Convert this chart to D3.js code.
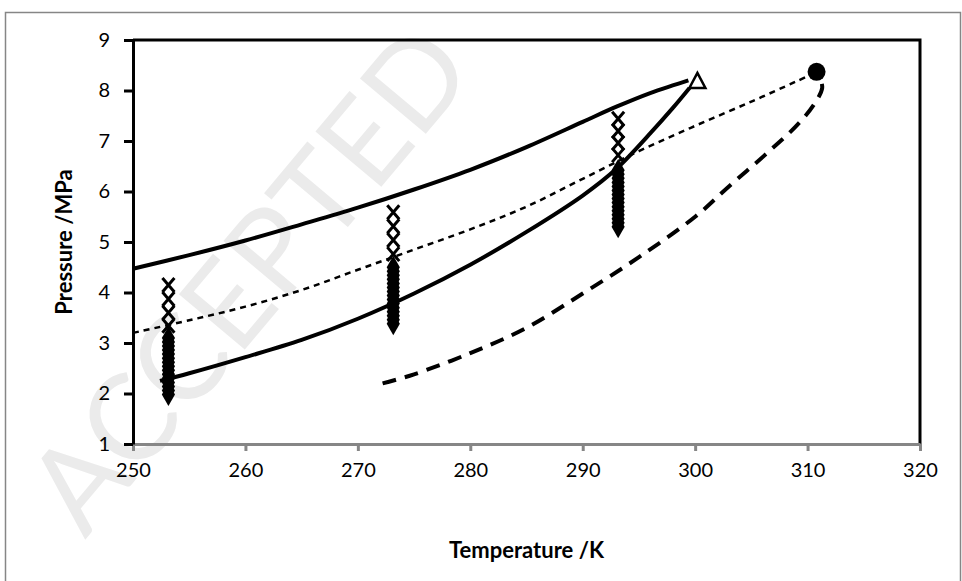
<!DOCTYPE html>
<html>
<head>
<meta charset="utf-8">
<script src="https://cdn.jsdelivr.net/npm/d3@7"></script>
<style>
body { margin: 0; background: #fff; }
text { font-family: Lato, "Open Sans", sans-serif; }
</style>
</head>
<body>
<script>
// chart values
var xTicks = [250, 260, 270, 280, 290, 300, 310, 320];
var yTicks = [1, 2, 3, 4, 5, 6, 7, 8, 9];

// solid envelope, upper branch (T, P)
var solidUpperT = [250, 255, 260, 265, 270, 275, 280, 285, 290, 293, 296, 298, 299.4];
var solidUpperP = [4.47, 4.74, 5.03, 5.35, 5.68, 6.04, 6.43, 6.88, 7.38, 7.68, 7.95, 8.1, 8.2];
// solid envelope, lower branch
var solidLowerT = [252.4, 255, 260, 265, 270, 275, 280, 285, 290, 293, 296, 298, 299.5];
var solidLowerP = [2.25, 2.4, 2.72, 3.06, 3.48, 3.98, 4.55, 5.2, 5.92, 6.45, 7.15, 7.65, 8.05];
// short dash line
var shortDashT = [250, 255, 260, 265, 270, 275, 280, 285, 290, 295, 300, 305, 309, 310.8];
var shortDashP = [3.2, 3.45, 3.72, 4.05, 4.45, 4.85, 5.25, 5.7, 6.25, 6.8, 7.3, 7.78, 8.18, 8.36];
// long dash line
var longDashT = [272.2, 275, 280, 285, 290, 295, 300, 303, 306.7, 309, 310.5, 311.3, 311.1];
var longDashP = [2.2, 2.38, 2.8, 3.3, 3.98, 4.7, 5.5, 6.1, 6.82, 7.3, 7.7, 8.05, 8.25];

// critical points
var triangleT = [300.2];
var triangleP = [8.17];
var circleT = [310.8];
var circleP = [8.37];

// measured points, crosses
var crossT = [253.15, 253.15, 253.15, 253.15, 273.15, 273.15, 273.15, 273.15, 293.15, 293.15, 293.15, 293.15];
var crossP = [4.15, 3.87, 3.6, 3.34, 5.59, 5.31, 5.04, 4.76, 7.44, 7.2, 6.96, 6.72];
// measured points, filled
var filledT = [253.15, 253.15, 253.15, 253.15, 253.15, 253.15, 253.15, 253.15, 253.15, 253.15, 253.15, 253.15, 253.15, 253.15, 253.15,
    273.15, 273.15, 273.15, 273.15, 273.15, 273.15, 273.15, 273.15, 273.15, 273.15, 273.15, 273.15, 273.15, 273.15, 273.15,
    293.15, 293.15, 293.15, 293.15, 293.15, 293.15, 293.15, 293.15, 293.15, 293.15, 293.15, 293.15, 293.15, 293.15, 293.15];
var filledP = [3.1, 3.02, 2.94, 2.86, 2.78, 2.7, 2.62, 2.54, 2.46, 2.38, 2.3, 2.22, 2.14, 2.06, 1.98,
    4.5, 4.42, 4.34, 4.26, 4.18, 4.1, 4.02, 3.94, 3.86, 3.78, 3.7, 3.62, 3.54, 3.46, 3.38,
    6.42, 6.34, 6.26, 6.18, 6.1, 6.02, 5.94, 5.86, 5.78, 5.7, 5.62, 5.54, 5.46, 5.38, 5.3];

var zip = function(a, b) {
    return a.map(function(v, i) { return {t: v, p: b[i]}; });
}

var width = 962, height = 581;
var plot = {left: 133, top: 40, right: 920, bottom: 444};

var svg = d3.select("body").append("svg")
    .attr("width", width)
    .attr("height", height);

// faint watermark
svg.append("text")
    .attr("transform", "translate(85,540) rotate(-50)")
    .attr("font-size", 120)
    .attr("fill", "#ebebeb")
    .attr("font-family", "Liberation Serif, serif")
    .text("ACCEPTED");

// outer chart border
svg.append("rect")
    .attr("x", 5.5).attr("y", 12.5)
    .attr("width", 955).attr("height", 575)
    .attr("fill", "none")
    .attr("stroke", "#868686")
    .attr("stroke-width", 1.5);

var x = d3.scaleLinear().domain([250, 320]).range([plot.left, plot.right]);
var y = d3.scaleLinear().domain([1, 9]).range([plot.bottom, plot.top]);

// plot frame top and right
svg.append("path")
    .attr("d", "M" + plot.left + "," + plot.top + "H" + plot.right + "V" + plot.bottom)
    .attr("fill", "none")
    .attr("stroke", "black")
    .attr("stroke-width", 3);

// x axis, grey
var xAxis = svg.append("g")
    .attr("transform", "translate(0," + plot.bottom + ")")
    .call(d3.axisBottom(x).tickValues(xTicks).tickSize(7).tickPadding(12).tickSizeOuter(0));
xAxis.select(".domain").attr("stroke", "#868686").attr("stroke-width", 3);
xAxis.selectAll(".tick line").attr("stroke", "#868686").attr("stroke-width", 3);
xAxis.selectAll(".tick text").attr("font-size", 20).attr("fill", "black");

// y axis, black
var yAxis = svg.append("g")
    .attr("transform", "translate(" + plot.left + ",0)")
    .call(d3.axisLeft(y).tickValues(yTicks).tickSize(9).tickPadding(14).tickSizeOuter(0));
yAxis.select(".domain").attr("stroke", "black").attr("stroke-width", 3);
yAxis.selectAll(".tick line").attr("stroke", "black").attr("stroke-width", 3);
yAxis.selectAll(".tick text").attr("font-size", 20).attr("fill", "black");

svg.append("text")
    .attr("x", (plot.left + plot.right) / 2)
    .attr("y", 558)
    .attr("text-anchor", "middle")
    .attr("font-size", 22)
    .attr("font-weight", "bold")
    .text("Temperature /K");

svg.append("text")
    .attr("transform", "translate(72," + ((plot.top + plot.bottom) / 2) + ") rotate(-90)")
    .attr("text-anchor", "middle")
    .attr("font-size", 22)
    .attr("font-weight", "bold")
    .text("Pressure /MPa");

var line = d3.line()
    .curve(d3.curveCatmullRom)
    .x(function(d) { return x(d.t); })
    .y(function(d) { return y(d.p); });

svg.append("path")
    .datum(zip(solidUpperT, solidUpperP))
    .attr("d", line)
    .attr("fill", "none").attr("stroke", "black").attr("stroke-width", 4);

svg.append("path")
    .datum(zip(solidLowerT, solidLowerP))
    .attr("d", line)
    .attr("fill", "none").attr("stroke", "black").attr("stroke-width", 4);

svg.append("path")
    .datum(zip(shortDashT, shortDashP))
    .attr("d", line)
    .attr("fill", "none").attr("stroke", "black").attr("stroke-width", 2.5)
    .attr("stroke-dasharray", "6,5");

svg.append("path")
    .datum(zip(longDashT, longDashP))
    .attr("d", line)
    .attr("fill", "none").attr("stroke", "black").attr("stroke-width", 4)
    .attr("stroke-dasharray", "14,9");

// filled markers
svg.selectAll(".filled")
    .data(zip(filledT, filledP)).enter()
    .append("path")
    .attr("class", "filled")
    .attr("transform", function(d) { return "translate(" + x(d.t) + "," + y(d.p) + ")"; })
    .attr("d", d3.symbol().type(d3.symbolDiamond).size(150))
    .attr("fill", "black");

// crosses
svg.selectAll(".cross")
    .data(zip(crossT, crossP)).enter()
    .append("path")
    .attr("class", "cross")
    .attr("transform", function(d) { return "translate(" + x(d.t) + "," + y(d.p) + ")"; })
    .attr("d", "M-6,-7L6,7M-6,7L6,-7")
    .attr("fill", "none")
    .attr("stroke", "black")
    .attr("stroke-width", 3);

// critical points
svg.selectAll(".tri")
    .data(zip(triangleT, triangleP)).enter()
    .append("path")
    .attr("transform", function(d) { return "translate(" + x(d.t) + "," + y(d.p) + ")"; })
    .attr("d", "M0,-9L8,6L-8,6Z")
    .attr("fill", "white")
    .attr("stroke", "black")
    .attr("stroke-width", 2.5);

svg.selectAll(".circ")
    .data(zip(circleT, circleP)).enter()
    .append("circle")
    .attr("cx", function(d) { return x(d.t); })
    .attr("cy", function(d) { return y(d.p); })
    .attr("r", 9)
    .attr("fill", "black");
</script>
</body>
</html>
